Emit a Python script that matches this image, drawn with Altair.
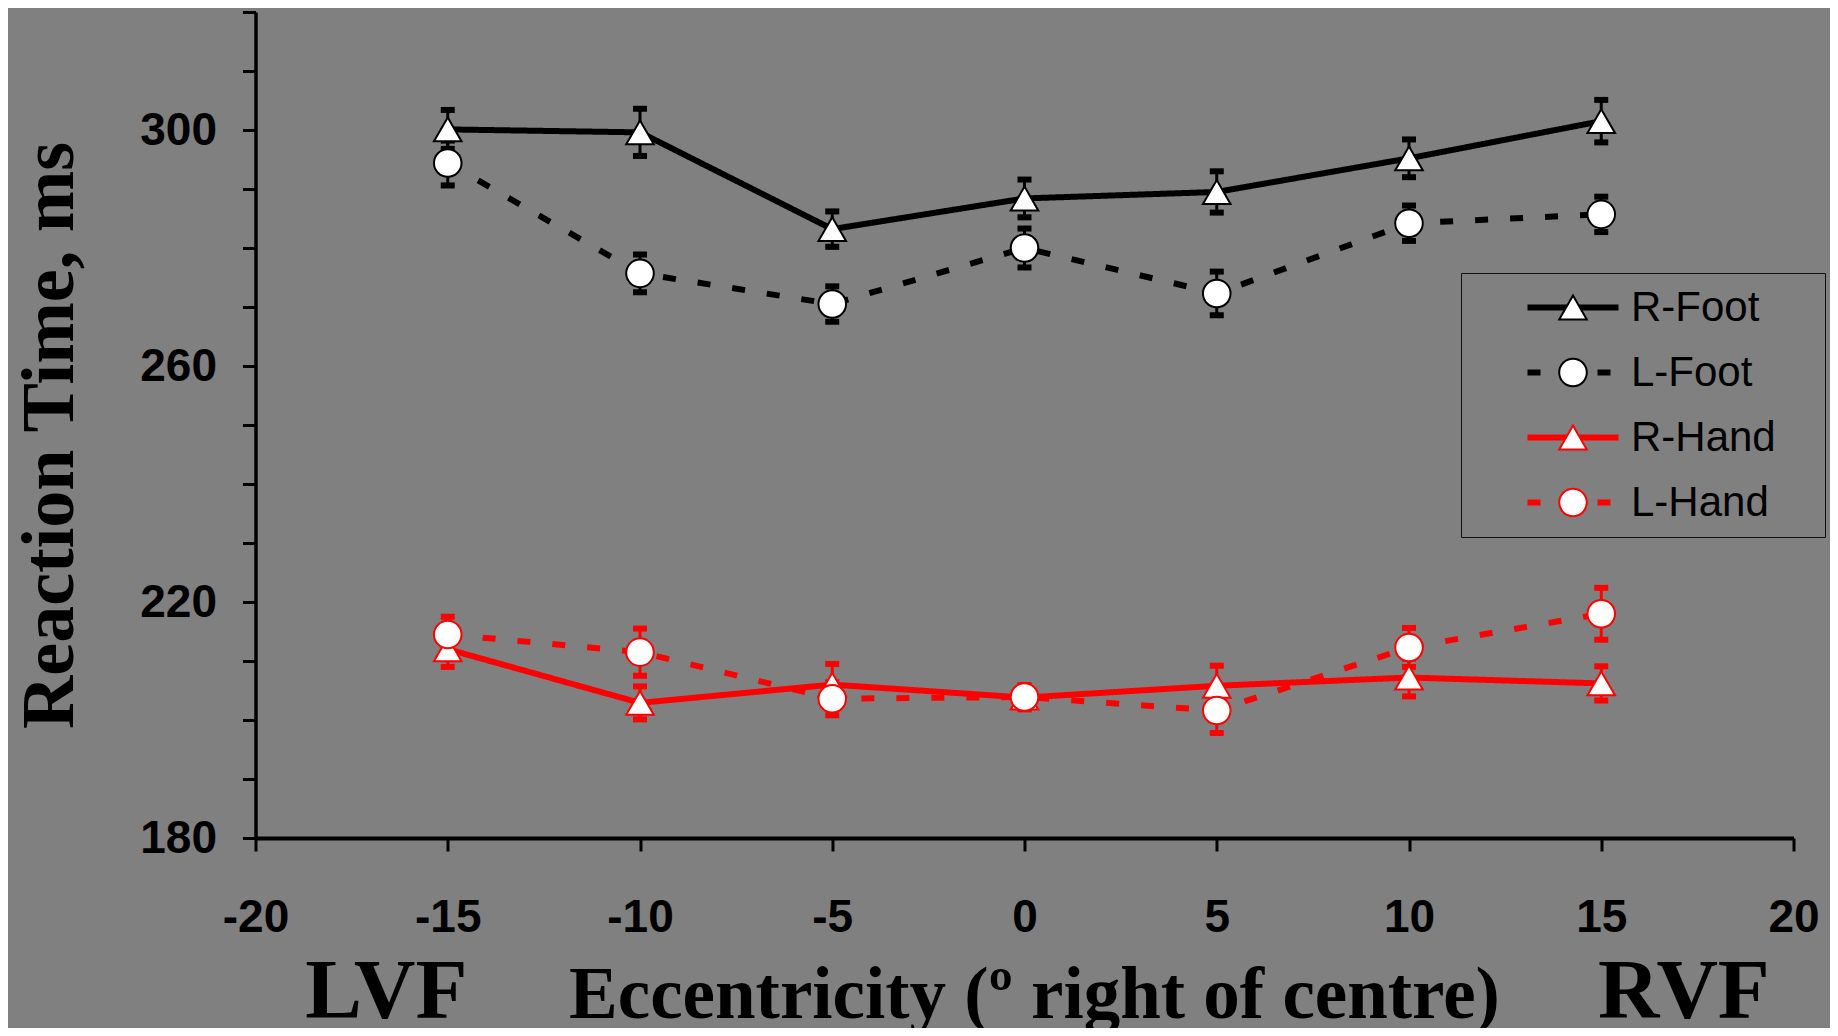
import altair as alt
import pandas as pd

# ---- data ----
ecc = [-15, -10, -5, 0, 5, 10, 15]
series_names = ["R-Foot", "L-Foot", "R-Hand", "L-Hand"]
series_limb = ["Foot", "Foot", "Hand", "Hand"]
r_foot = [300.1, 299.6, 283.2, 288.4, 289.5, 295.2, 301.5]
r_foot_err = [3.3, 4.0, 3.0, 3.2, 3.5, 3.2, 3.6]
l_foot = [294.4, 275.7, 270.5, 280.0, 272.3, 284.2, 285.7]
l_foot_err = [3.8, 3.2, 3.0, 3.3, 3.7, 3.0, 3.0]
r_hand = [212.0, 202.9, 206.0, 203.8, 205.8, 207.2, 206.2]
r_hand_err = [3.0, 2.8, 3.5, 2.0, 3.4, 3.2, 2.9]
l_hand = [214.5, 211.5, 203.6, 203.9, 201.6, 212.3, 218.0]
l_hand_err = [3.0, 4.0, 2.8, 2.0, 3.8, 3.3, 4.4]
series_colors = ["#000000", "#000000", "#ff0000", "#ff0000"]
series_dash = [[1, 0], [13, 22], [1, 0], [13, 22]]
series_shapes = ["triangle-up", "circle", "triangle-up", "circle"]
side_labels = ["LVF", "RVF"]
side_pos = [-16.6, 17.15]
x_ticks = [-20, -15, -10, -5, 0, 5, 10, 15, 20]
y_ticks = list(range(180, 321, 10))

values = [r_foot, l_foot, r_hand, l_hand]
errors = [r_foot_err, l_foot_err, r_hand_err, l_hand_err]
rows = []
for name, limb, vals, errs, col in zip(series_names, series_limb, values, errors, series_colors):
    for x, v, e in zip(ecc, vals, errs):
        rows.append(dict(ecc=x, rt=v, lo=v - e, hi=v + e, series=name, pseries=name,
                         limb=limb, col=col))
df = pd.DataFrame(rows)
side_df = pd.DataFrame({"pos": side_pos, "lab": side_labels})

x_axis = alt.Axis(
    values=x_ticks, labelExpr="'' + datum.value",
    title="Eccentricity (º right of centre)", titleFont="Liberation Serif",
    titleFontSize=73, titleFontWeight="bold", titleColor="black",
    titleX=778.5, titleY=179, titleAlign="center", titleBaseline="alphabetic",
    labelFont="Liberation Sans", labelFontWeight="bold", labelFontSize=46,
    labelColor="black", labelPadding=44, labelFlush=False, labelOverlap=False,
    tickSize=13, tickWidth=3, tickColor="black",
    domainColor="black", domainWidth=4, grid=False,
)
y_axis = alt.Axis(
    values=y_ticks, labelExpr="datum.value % 40 == 20 ? '' + datum.value : ''",
    title="Reaction Time, ms", titleFont="Liberation Serif", titleFontSize=74,
    titleFontWeight="bold", titleColor="black", titleAngle=270,
    titleX=-183, titleY=423, titleAlign="center", titleBaseline="alphabetic",
    labelFont="Liberation Sans", labelFontWeight="bold", labelFontSize=46,
    labelColor="black", labelPadding=26, labelFlush=False, labelOverlap=False,
    tickSize=13, tickWidth=3, tickColor="black",
    domainColor="black", domainWidth=3.5, grid=False,
)
xs = alt.Scale(domain=[-20, 20], nice=False, zero=False)
ys = alt.Scale(domain=[180, 320], nice=False, zero=False)

LEG_X, LEG_Y, ROW_H = 1205.5, 261, 65

line_legend = alt.Legend(
    orient="none", legendX=LEG_X, legendY=LEG_Y, direction="vertical",
    title="\u200b", titleOrient="right", titlePadding=47, titleFontSize=10,
    symbolType="stroke", symbolSize=8281, symbolStrokeWidth=6,
    clipHeight=ROW_H, rowPadding=0, padding=2, symbolOffset=61.5, labelOffset=9.5,
    labelFont="Liberation Sans", labelFontSize=42, labelColor="black",
    labelLimit=500, strokeColor="#111111", zindex=0,
)


def point_legend(row0):
    return alt.Legend(
        orient="none", legendX=LEG_X, legendY=LEG_Y + row0 * ROW_H, title=None,
        direction="vertical", symbolSize=760, symbolStrokeWidth=2, symbolOpacity=1,
        clipHeight=ROW_H, rowPadding=0, padding=2, symbolOffset=89, labelOffset=9.5,
        labelFont="Liberation Sans", labelFontSize=42, labelColor="black",
        labelLimit=500, labelExpr="''", zindex=1,
    )


rules = alt.Chart(df).mark_rule(strokeWidth=3, opacity=1).encode(
    x=alt.X("ecc:Q", scale=xs, axis=x_axis),
    y=alt.Y("lo:Q", scale=ys, axis=y_axis),
    y2="hi:Q",
    color=alt.Color("col:N", scale=None),
)
caps = alt.Chart(df).transform_fold(["lo", "hi"], as_=["end", "capv"]).mark_tick(
    orient="horizontal", size=14, thickness=6, opacity=1
).encode(
    x=alt.X("ecc:Q", scale=xs, axis=x_axis),
    y=alt.Y("capv:Q", scale=ys, axis=y_axis),
    color=alt.Color("col:N", scale=None),
)
lines = alt.Chart(df).mark_line(strokeWidth=6, strokeCap="butt", opacity=1).encode(
    x=alt.X("ecc:Q", scale=xs, axis=x_axis),
    y=alt.Y("rt:Q", scale=ys, axis=y_axis),
    color=alt.Color("series:N", scale=alt.Scale(domain=series_names, range=series_colors),
                    legend=line_legend),
    strokeDash=alt.StrokeDash("series:N", scale=alt.Scale(domain=series_names, range=series_dash),
                              legend=line_legend),
)


def point_layer(limb, idx):
    names = [series_names[i] for i in idx]
    shapes = [series_shapes[i] for i in idx]
    return alt.Chart(df).transform_filter(alt.datum.limb == limb).mark_point(
        filled=True, fill="white", stroke=series_colors[idx[0]], strokeWidth=2,
        size=760, opacity=1
    ).encode(
        x=alt.X("ecc:Q", scale=xs, axis=x_axis),
        y=alt.Y("rt:Q", scale=ys, axis=y_axis),
        shape=alt.Shape("pseries:N", scale=alt.Scale(range=shapes), sort=names,
                        legend=point_legend(idx[0])),
    )


points_foot = point_layer("Foot", [0, 1])
points_hand = point_layer("Hand", [2, 3])

sides = alt.Chart(side_df).mark_text(
    font="Liberation Serif", fontSize=85, fontWeight="bold", color="black",
    align="center", baseline="alphabetic",
).encode(
    x=alt.X("pos:Q", scale=xs, axis=x_axis),
    y=alt.value(1006),
    text="lab:N",
)

chart = alt.layer(rules, caps, lines, points_foot, points_hand, sides).resolve_scale(
    shape="independent"
).properties(
    width=1538, height=826,
    autosize=alt.AutoSizeParams(type="none"),
    padding={"left": 247.5, "top": 4, "right": 36, "bottom": 190},
    background="#808080",
).configure_view(stroke=None)

chart.save("out.html", embed_options={"renderer": "svg", "actions": False})
